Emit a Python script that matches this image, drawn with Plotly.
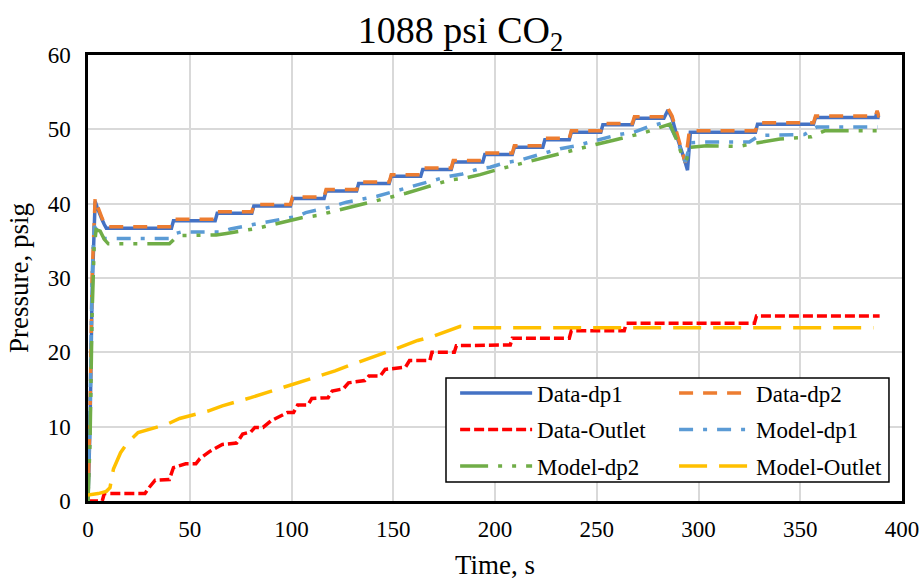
import plotly.graph_objects as go

# ---- data ----
t_dp1 = [0, 1, 2, 3, 3.5, 4.5, 6, 7, 8, 9, 41, 42, 62.5, 63.5, 80.5, 81.5, 99.5, 100.5, 116, 117,
         132, 133, 148, 149, 163.5, 164.5, 178.5, 179.5, 194, 195, 208.5, 209.5, 223.5, 224.5,
         236.5, 237.5, 252, 253, 267.5, 268.5, 283, 285, 287, 290, 293, 294.6, 296, 328, 329,
         356.5, 357.5, 387, 387.8, 388.5, 389]
p_dp1 = [0, 10, 28, 38, 40.3, 39.5, 38.3, 37.8, 37.2, 36.7, 36.7, 37.7, 37.7, 38.7, 38.7, 39.7, 39.7, 40.7,
         40.7, 41.7, 41.7, 42.7, 42.7, 43.7, 43.7, 44.6, 44.6, 45.6, 45.6, 46.6, 46.6, 47.6, 47.6, 48.6,
         48.6, 49.6, 49.6, 50.6, 50.6, 51.5, 51.5, 52.6, 51.5, 48.5, 46.0, 44.5, 49.6, 49.6, 50.7,
         50.7, 51.6, 51.6, 52.4, 51.6, 51.6]

t_dp2 = [0, 1, 2, 3, 3.5, 4.5, 6, 7, 8, 9, 41, 42, 62.5, 63.5, 80.5, 81.5, 99.5, 100.5, 116, 117,
         132, 133, 148, 149, 163.5, 164.5, 178.5, 179.5, 194, 195, 208.5, 209.5, 223.5, 224.5,
         236.5, 237.5, 252, 253, 267.5, 268.5, 283, 285, 287, 290, 292, 293.5, 295.5, 328, 329,
         356.5, 357.5, 387, 387.8, 388.5, 389]
p_dp2 = [0, 12, 30, 39, 40.7, 39.8, 38.5, 38.0, 37.4, 36.9, 36.9, 37.9, 37.9, 38.9, 38.9, 39.9, 39.9, 40.9,
         40.9, 41.9, 41.9, 42.9, 42.9, 43.9, 43.9, 44.8, 44.8, 45.8, 45.8, 46.8, 46.8, 47.8, 47.8, 48.8,
         48.8, 49.8, 49.8, 50.8, 50.8, 51.7, 51.7, 52.8, 51.8, 49.0, 47.0, 45.5, 49.8, 49.8, 50.9,
         50.9, 51.8, 51.8, 52.5, 51.8, 51.8]

t_out = [0, 7, 8, 28, 30, 33, 40, 42, 48, 53, 55, 60, 66, 73, 76, 80, 82, 86, 90, 93, 98, 101, 103,
         108, 110, 118, 120, 125.5, 128, 136, 138, 143.6, 146, 156, 158, 168, 169, 180, 181, 207.5,
         208.5, 236.5, 237.5, 263.5, 264.5, 327.5, 328.5, 389]
p_out = [0, 0, 1.0, 1.0, 1.8, 2.8, 2.9, 4.5, 5.0, 5.0, 5.7, 6.7, 7.6, 7.8, 9.0, 9.3, 9.9, 9.9, 10.8,
         11.2, 11.9, 11.9, 12.9, 12.9, 13.8, 13.9, 14.8, 15.1, 15.9, 16.2, 16.8, 16.8, 17.7, 18.0,
         18.9, 18.9, 20.0, 20.0, 20.9, 21.0, 21.9, 21.9, 22.9, 22.9, 23.9, 23.9, 24.9, 24.9]

t_mdp1 = [0, 1, 2, 3, 4, 6, 8, 40, 43, 46, 65, 70, 85, 98, 103, 107, 113, 120, 127, 134.5, 142,
          148.5, 156, 163, 170, 176, 184, 191, 197.6, 205, 211.5, 219, 225.5, 232, 240, 247, 253,
          260.7, 268, 275, 281.5, 285, 289.4, 292, 293.5, 296, 303, 325, 329, 331, 352, 356, 358, 388]
p_mdp1 = [0, 12, 30, 37, 36.6, 36.2, 35.3, 35.3, 36.0, 36.2, 36.2, 36.6, 37.4, 38.0, 38.3, 38.8,
          39.2, 39.6, 40.2, 40.6, 41.0, 41.5, 42.1, 42.6, 43.1, 43.6, 44.0, 44.6, 44.9, 45.5, 45.8,
          46.4, 46.8, 47.4, 47.8, 48.3, 48.7, 49.3, 49.6, 50.3, 50.8, 51.0, 48.6, 46.5, 45.6, 48.2,
          48.3, 48.3, 49.0, 49.2, 49.3, 50.0, 50.3, 50.3]

t_mdp2 = [0, 1, 2, 3, 4, 6, 8, 10, 40, 43, 46, 63, 68, 76, 83.6, 91, 105, 112.4, 120, 127, 141.6,
          148.8, 156.3, 163.5, 178, 184.8, 192.7, 200, 214, 221.4, 229, 236.5, 250, 257.8, 265.3,
          272.7, 286, 289.4, 292, 294, 296, 304, 320, 327, 340, 355.5, 362, 388]
p_mdp2 = [0, 8, 25, 34, 36.5, 36.3, 35.2, 34.6, 34.6, 35.4, 35.7, 35.8, 36.0, 36.3, 36.7, 37.2, 38.1,
          38.4, 38.9, 39.4, 40.4, 40.9, 41.4, 42.0, 43.2, 43.4, 43.9, 44.5, 45.5, 46.0, 46.5, 47.0,
          48.0, 48.5, 49.0, 49.5, 50.7, 48.5, 46.4, 45.8, 47.6, 47.8, 47.7, 48.1, 48.7, 49.0, 49.8, 49.8]

t_mout = [0, 5, 9, 10.8, 12.5, 16, 19, 24.6, 38.6, 45, 59, 66, 80, 87, 101, 107.5, 121.4, 128, 142,
          148.5, 162, 169, 183, 189, 386]
p_mout = [0.8, 1.0, 1.3, 1.8, 4.3, 6.5, 7.7, 9.2, 10.3, 11.1, 12.1, 12.8, 13.9, 14.5, 15.8, 16.3,
          17.5, 18.2, 19.5, 20.2, 21.6, 22.1, 23.5, 23.3, 23.3]

x_ticks = [0, 50, 100, 150, 200, 250, 300, 350, 400]
y_ticks = [0, 10, 20, 30, 40, 50, 60]

FONT = "Liberation Serif, Times New Roman, serif"
W = 3.5

series = [
    ("Data-dp1", t_dp1, p_dp1, "#4472C4", "solid", "legend"),
    ("Data-dp2", t_dp2, p_dp2, "#ED7D31", "14px,10px", "legend2"),
    ("Data-Outlet", t_out, p_out, "#FF0000", "10px,4px", "legend"),
    ("Model-dp1", t_mdp1, p_mdp1, "#5B9BD5", "14px,10px,4px,10px", "legend2"),
    ("Model-dp2", t_mdp2, p_mdp2, "#70AD47", "28px,10px,4px,10px,4px,10px", "legend"),
    ("Model-Outlet", t_mout, p_mout, "#FFC000", "28px,12px", "legend2"),
]

fig = go.Figure()
for name, xs, ys, col, dash, lg in series:
    fig.add_trace(go.Scatter(x=xs, y=ys, name=name, mode="lines",
                             line=dict(color=col, width=W, dash=dash),
                             legend=lg, legendgroup=name))

# legend frame
fig.add_shape(type="rect", xref="paper", yref="paper",
              x0=0.4398, x1=0.984, y0=0.0426, y1=0.276,
              line=dict(color="black", width=1.5), fillcolor="white", layer="above")

leg_common = dict(font=dict(family=FONT, size=23, color="black"), bgcolor="rgba(0,0,0,0)",
                  borderwidth=0, itemwidth=72, orientation="v", xanchor="left", yanchor="top",
                  tracegroupgap=3.5, itemclick=False)

fig.update_layout(
    width=921, height=583,
    margin=dict(l=88, r=19, t=55, b=82, autoexpand=False),
    paper_bgcolor="white", plot_bgcolor="white",
    font=dict(family=FONT, color="black"),
    title=dict(text="1088 psi CO<sub>2</sub>", font=dict(family=FONT, size=38, color="black"),
               x=0.5, xref="container", xanchor="center", y=0.972, yref="container", yanchor="top"),
    legend=dict(x=0.451, y=0.29, **leg_common),
    legend2=dict(x=0.72, y=0.29, **leg_common),
    showlegend=True,
)
fig.update_xaxes(range=[0, 400], tickvals=x_ticks, ticks="", showgrid=True, gridcolor="#D9D9D9",
                 gridwidth=2, showline=True, linecolor="black", linewidth=2.5, mirror=True,
                 zeroline=False, tickfont=dict(family=FONT, size=23, color="black"),
                 ticklabelstandoff=6,
                 title=dict(text="Time, s", font=dict(family=FONT, size=27, color="black"), standoff=14))
fig.update_yaxes(range=[0, 60], tickvals=y_ticks, ticks="", showgrid=True, gridcolor="#D9D9D9",
                 gridwidth=2, showline=True, linecolor="black", linewidth=2.5, mirror=True,
                 zeroline=False, tickfont=dict(family=FONT, size=23, color="black"),
                 ticklabelstandoff=10,
                 title=dict(text="Pressure, psig", font=dict(family=FONT, size=27, color="black"), standoff=12))

fig.write_html("out.html")
